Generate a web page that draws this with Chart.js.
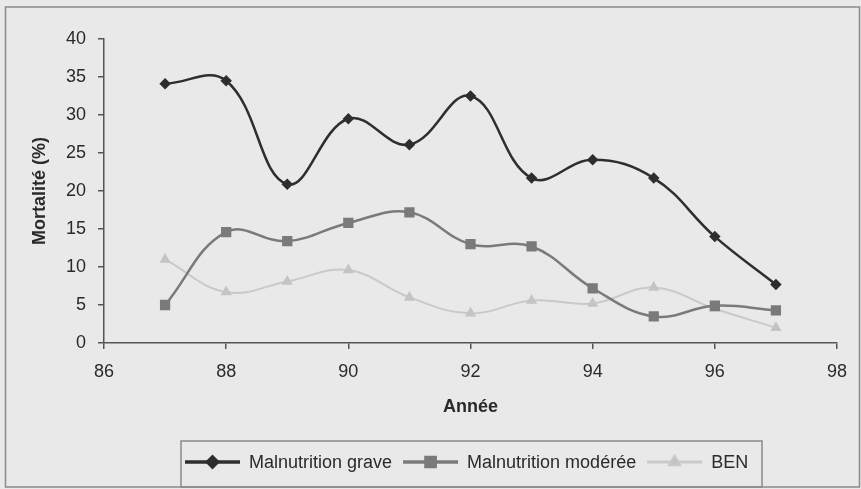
<!DOCTYPE html>
<html>
<head>
<meta charset="utf-8">
<script src="https://cdn.jsdelivr.net/npm/chart.js@4.4.0/dist/chart.umd.min.js"></script>
<style>
  html, body { margin: 0; padding: 0; background: #e9e9e9; }
  #wrap { width: 861px; height: 489px; position: relative; }
</style>
</head>
<body>
<div id="wrap"><canvas id="chartCanvas" width="861" height="489"></canvas></div>
<script>
// Données
const annees = [87, 88, 89, 90, 91, 92, 93, 94, 95, 96, 97];
const grave = [34.1, 34.5, 20.9, 29.5, 26.1, 32.5, 21.7, 24.1, 21.7, 14.0, 7.7];
const moderee = [5.0, 14.6, 13.4, 15.8, 17.2, 13.0, 12.7, 7.2, 3.5, 4.9, 4.3];
const ben = [11.0, 6.7, 8.1, 9.6, 6.0, 3.9, 5.6, 5.2, 7.3, 4.5, 2.0];
const seriesNoms = ['Malnutrition grave', 'Malnutrition modérée', 'BEN'];

const toXY = (vals) => annees.map((a, i) => ({ x: a, y: vals[i] }));

const textColor = '#2a2a2a';
const axisColor = '#555';

// Fond, cadre et légende dessinés à la main (style Excel)
const cadrePlugin = {
    id: 'cadre',
    beforeDraw(chart) {
        const c = chart.ctx;
        c.save();
        c.fillStyle = '#e9e9e9';
        c.fillRect(0, 0, chart.width, chart.height);
        c.strokeStyle = '#8a8a8a';
        c.lineWidth = 1.5;
        c.strokeRect(5.5, 7, 854, 480);
        c.restore();
    },
    afterDraw(chart) {
        const c = chart.ctx;
        c.save();
        c.strokeStyle = '#8a8a8a';
        c.lineWidth = 1.5;
        c.strokeRect(181, 441, 581, 46);
        c.font = '18px "Liberation Sans", Arial, sans-serif';
        c.textBaseline = 'middle';
        let x = 185;
        const y = 462;
        chart.data.datasets.forEach((ds) => {
            c.strokeStyle = ds.borderColor;
            c.lineWidth = ds.borderWidth + 1;
            c.beginPath();
            c.moveTo(x, y);
            c.lineTo(x + 55, y);
            c.stroke();
            Chart.helpers.drawPoint(c, {
                pointStyle: ds.pointStyle,
                radius: ds.pointRadius + 1,
                borderWidth: 1
            }, x + 27.5, y);
            c.fillStyle = ds.pointBackgroundColor;
            c.strokeStyle = ds.pointBorderColor;
            c.fill();
            x += 64;
            c.fillStyle = textColor;
            c.fillText(ds.label, x, y + 1);
            x += c.measureText(ds.label).width + 11;
        });
        c.restore();
    }
};

const ctx = document.getElementById('chartCanvas').getContext('2d');
const myChart = new Chart(ctx, {
    type: 'line',
    data: {
        datasets: [
            {
                label: seriesNoms[0],
                data: toXY(grave),
                borderColor: '#2e2e2e',
                borderWidth: 2.5,
                pointStyle: 'rectRot',
                pointRadius: 4,
                pointBackgroundColor: '#2e2e2e',
                pointBorderColor: '#2e2e2e',
                tension: 0.4
            },
            {
                label: seriesNoms[1],
                data: toXY(moderee),
                borderColor: '#7a7a7a',
                borderWidth: 2.5,
                pointStyle: 'rect',
                pointRadius: 5.5,
                pointBackgroundColor: '#7a7a7a',
                pointBorderColor: '#7a7a7a',
                tension: 0.4
            },
            {
                label: seriesNoms[2],
                data: toXY(ben),
                borderColor: '#c9c9c9',
                borderWidth: 2,
                pointStyle: 'triangle',
                pointRadius: 4.5,
                pointBackgroundColor: '#c4c4c4',
                pointBorderColor: '#c4c4c4',
                tension: 0.4
            }
        ]
    },
    options: {
        responsive: false,
        animation: false,
        layout: { padding: { left: 0, top: 39, right: 24, bottom: 0 } },
        plugins: {
            legend: { display: false },
            tooltip: { enabled: false }
        },
        scales: {
            x: {
                type: 'linear',
                min: 86,
                max: 98,
                ticks: {
                    stepSize: 2,
                    color: textColor,
                    padding: 12,
                    font: { family: '"Liberation Sans", Arial, sans-serif', size: 18 }
                },
                grid: {
                    drawOnChartArea: false,
                    drawTicks: true,
                    tickLength: 6,
                    color: axisColor,
                    lineWidth: 1.5
                },
                border: { color: axisColor, width: 1.5 },
                title: {
                    display: true,
                    text: 'Année',
                    color: textColor,
                    font: { family: '"Liberation Sans", Arial, sans-serif', size: 18, weight: 'bold' },
                    padding: { top: 0, bottom: 71 }
                },
                afterFit(scale) { scale.height = 146; }
            },
            y: {
                min: 0,
                max: 40,
                ticks: {
                    stepSize: 5,
                    color: textColor,
                    padding: 12,
                    font: { family: '"Liberation Sans", Arial, sans-serif', size: 18 }
                },
                grid: {
                    drawOnChartArea: false,
                    drawTicks: true,
                    tickLength: 6,
                    color: axisColor,
                    lineWidth: 1.5
                },
                border: { color: axisColor, width: 1.5 },
                title: {
                    display: true,
                    text: 'Mortalité (%)',
                    color: textColor,
                    font: { family: '"Liberation Sans", Arial, sans-serif', size: 18, weight: 'bold' },
                    padding: { top: 29, bottom: 0 }
                },
                afterFit(scale) { scale.width = 104; }
            }
        }
    },
    plugins: [cadrePlugin]
});
</script>
</body>
</html>
